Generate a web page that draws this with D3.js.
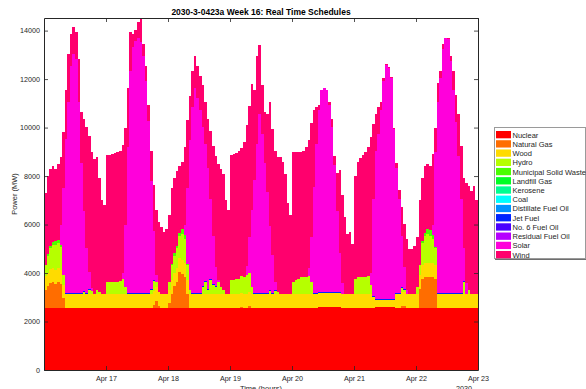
<!DOCTYPE html>
<html>
<head>
<meta charset="utf-8">
<script src="https://cdn.jsdelivr.net/npm/d3@7"></script>
<style>
  html, body { margin: 0; padding: 0; background: #fff; }
  svg { display: block; font-family: "Liberation Sans", Arial, Helvetica, sans-serif; }
</style>
</head>
<body>
<svg id="chart" width="586" height="389"></svg>
<script>
// Week of hourly real-time schedules, Apr 16 00:00 to Apr 23 00:00, 2030
const weekStart = new Date(2030, 3, 16);
const weekEnd = new Date(2030, 3, 23);
const hoursInWeek = 168;

const chartTitle = "2030-3-0423a Week 16: Real Time Schedules";
const yLabel = "Power (MW)";
const xLabel = "Time (hours)";
const yearLabel = "2030";

const yTickValues = [0, 2000, 4000, 6000, 8000, 10000, 12000, 14000];
const xTickLabels = ["Apr 17", "Apr 18", "Apr 19", "Apr 20", "Apr 21", "Apr 22", "Apr 23"];
const yMax = 14520;

const seriesNames = ["Nuclear", "Natural Gas", "Wood", "Hydro", "Municipal Solid Waste", "Landfill Gas",
  "Kerosene", "Coal", "Distillate Fuel Oil", "Jet Fuel", "No. 6 Fuel Oil", "Residual Fuel Oil", "Solar", "Wind"];
const seriesColors = ["#ff0000", "#ff6d00", "#ffdb00", "#b6ff00", "#49ff00", "#00ff24",
  "#00ff92", "#00ffff", "#0092ff", "#0024ff", "#4900ff", "#b600ff", "#ff00db", "#ff006d"];

// Hourly output in MW, one row of 12 hours per line
const nuclear = [
  2550,2550,2550,2550,2550,2550,2550,2550,2550,2550,2550,2550,
  2550,2550,2550,2550,2550,2550,2550,2550,2550,2550,2550,2550,
  2550,2550,2550,2550,2550,2550,2550,2550,2550,2550,2550,2550,
  2550,2550,2550,2550,2550,2550,2550,2550,2550,2550,2550,2550,
  2550,2550,2550,2550,2550,2550,2550,2550,2550,2550,2550,2550,
  2550,2550,2550,2550,2550,2550,2550,2550,2550,2550,2550,2550,
  2550,2550,2550,2550,2550,2550,2550,2550,2550,2550,2550,2550,
  2550,2550,2550,2550,2550,2550,2550,2550,2550,2550,2550,2550,
  2550,2550,2550,2550,2550,2550,2550,2550,2550,2550,2590,2590,
  2590,2590,2590,2590,2590,2590,2590,2550,2550,2550,2550,2550,
  2550,2550,2550,2550,2550,2550,2550,2550,2580,2580,2580,2580,
  2580,2580,2580,2580,2550,2550,2550,2550,2550,2550,2550,2550,
  2550,2550,2550,2550,2550,2550,2550,2550,2550,2550,2550,2550,
  2550,2550,2550,2550,2550,2550,2550,2550,2550,2550,2550,2550
];

const naturalGas = [
  750,900,1050,1100,1000,1100,1000,400,0,0,0,0,
  0,0,0,0,0,0,0,0,0,0,0,0,
  0,0,0,0,0,0,0,0,0,0,0,0,
  0,0,0,0,0,0,150,300,100,0,0,0,
  200,600,900,1100,1500,1400,1300,600,0,0,0,0,
  0,0,0,0,0,0,0,0,0,0,0,0,
  0,0,0,0,60,0,0,80,0,0,0,0,
  0,0,0,0,0,0,0,0,0,0,0,0,
  0,0,0,0,0,0,0,0,0,0,0,0,
  0,0,0,0,0,0,0,0,0,0,0,0,
  0,0,0,0,0,0,0,0,0,0,0,0,
  0,0,0,0,0,0,80,80,0,0,0,0,
  0,800,1200,1300,1300,1300,1300,1200,0,0,0,0,
  0,0,0,0,0,0,0,0,0,0,0,0
];

const wood = [
  570,570,570,570,570,570,570,570,570,570,570,570,
  570,570,570,570,570,570,570,570,570,570,570,570,
  570,570,570,570,570,570,570,570,570,570,570,570,
  570,570,570,570,570,570,570,570,570,570,570,570,
  570,570,570,570,570,570,570,570,570,570,570,570,
  570,570,570,570,570,570,570,570,570,570,570,570,
  570,570,570,570,570,570,570,570,570,570,570,570,
  570,570,570,570,570,570,570,570,570,570,570,570,
  570,570,570,570,570,570,570,570,570,570,570,570,
  570,570,570,570,570,570,570,570,570,570,570,570,
  570,570,570,570,570,570,570,450,310,310,310,310,
  310,310,310,310,570,570,570,570,570,570,570,570,
  570,570,570,570,570,570,570,570,570,570,570,570,
  570,570,570,570,570,570,570,570,570,570,570,570
];

const hydro = [
  450,700,850,950,1050,1000,950,400,0,0,0,0,
  0,0,0,100,0,200,150,0,200,100,0,0,
  500,500,500,520,520,550,650,300,0,0,0,0,
  0,0,0,0,0,200,400,200,0,0,0,0,
  300,600,700,800,900,1100,1000,600,200,0,0,0,
  0,300,500,200,600,400,300,500,300,200,0,0,
  600,600,620,650,680,730,780,800,300,0,0,0,
  0,0,0,150,0,150,100,0,0,0,0,0,
  500,600,650,700,700,720,750,500,0,0,0,0,
  0,0,0,0,0,0,0,0,0,0,0,0,
  650,700,700,700,720,750,400,0,0,0,0,0,
  0,0,0,0,0,0,200,100,0,0,0,0,
  300,400,900,1100,1200,1100,1000,700,0,0,0,0,
  0,0,0,0,0,0,500,0,200,0,0,0
];

const municipalSolidWaste = [
  0,50,80,120,150,150,100,0,0,0,0,0,
  0,0,0,0,0,0,0,0,0,0,0,0,
  0,0,0,0,0,0,0,0,0,0,0,0,
  0,0,0,0,0,0,0,0,0,0,0,0,
  0,50,100,100,150,200,150,50,0,0,0,0,
  0,0,0,0,0,0,0,0,0,0,0,0,
  0,0,0,0,0,0,0,0,0,0,0,0,
  0,0,0,0,0,0,0,0,0,0,0,0,
  0,0,0,0,0,0,0,0,0,0,0,0,
  0,0,0,0,0,0,0,0,0,0,0,0,
  0,0,0,0,0,0,0,0,0,0,0,0,
  0,0,0,0,0,0,0,0,0,0,0,0,
  0,0,100,150,200,250,150,50,0,0,0,0,
  0,0,0,0,0,0,0,0,0,0,0,0
];

// Small daytime jet fuel block
const jetFuel = [
  0,0,0,0,0,0,0,0,40,40,40,40,
  40,40,40,40,40,40,0,0,0,0,0,0,
  0,0,0,0,0,0,0,0,40,40,40,40,
  40,40,40,40,40,40,40,0,0,0,0,0,
  0,0,0,0,0,0,0,0,0,40,40,40,
  40,40,40,40,40,40,40,0,0,0,0,0,
  0,0,0,0,0,0,0,0,0,40,40,40,
  40,40,40,40,40,40,0,0,0,0,0,0,
  0,0,0,0,0,0,0,0,40,40,40,40,
  40,40,40,40,40,40,40,0,0,0,0,0,
  0,0,0,0,0,0,0,40,40,40,40,40,
  40,40,40,40,40,40,40,40,0,0,0,0,
  0,0,0,0,0,0,0,0,40,40,40,40,
  40,40,40,40,40,40,40,0,0,0,0,0
];

// Fuels with no scheduled output this week
const landfillGas = [];
const kerosene = [];
const coal = [];
const distillateFuelOil = [];
const no6FuelOil = [];
const residualFuelOil = [];

const solar = [
  0,0,0,0,0,0,830,3580,6380,7880,9380,9880,
  9680,7880,5380,3280,1880,680,100,0,0,0,0,0,
  0,0,0,0,0,0,230,2580,6030,9180,10150,10430,
  10530,10380,9810,8780,7130,4450,2030,300,0,0,0,0,
  0,0,0,0,0,0,430,3130,6180,7680,8480,8080,
  7580,6580,5680,4980,3280,1980,780,100,0,0,0,0,
  0,0,0,0,0,0,400,1500,3180,4680,6180,7380,
  6580,5380,4180,2630,1580,330,0,0,0,0,0,0,
  0,0,0,0,0,0,330,1880,4380,6180,7540,8340,
  8440,8340,7740,6840,5240,3340,1640,480,0,0,0,0,
  0,0,0,0,0,0,480,4000,6110,6810,7810,9010,
  9660,9510,9110,7010,5180,3880,2100,900,180,0,0,0,
  0,0,0,0,0,0,430,3930,7880,8880,10080,10530,
  10480,9580,8380,7080,5680,3880,1380,480,0,0,0,0
];

const wind = [
  2980,3230,3200,3110,2980,3130,2800,2300,2000,2000,1300,1100,
  1100,1800,2100,3800,5000,5600,5630,5580,5480,4680,3880,3680,
  5250,5250,5280,5310,5360,5380,5300,4000,2450,1600,530,450,
  650,980,470,600,650,1230,1900,2680,2880,2780,2580,2680,
  2780,3130,3080,3080,2730,2780,3200,2800,1800,1500,1300,1300,
  1400,1700,1700,2000,2800,3700,4600,4780,4880,4780,3880,3480,
  5130,5180,5210,5280,5290,5550,5800,5400,5200,3700,3600,2850,
  2000,2100,3200,5100,5200,5400,5580,5680,5480,4980,3780,3280,
  5380,5280,5230,5180,5230,5360,5300,4700,3200,1500,200,0,
  0,0,100,300,400,1600,3400,3600,3180,2480,2580,2080,
  4230,4780,4930,5030,5160,5330,5600,3100,1500,1100,300,100,
  30,50,50,50,200,400,1200,1800,2100,1880,1880,1980,
  2080,2680,2580,2730,2680,2630,2900,1000,800,300,200,0,
  50,200,800,1100,1700,2200,2900,4100,4280,4280,4480,3880
];

const seriesValues = [nuclear, naturalGas, wood, hydro, municipalSolidWaste, landfillGas,
  kerosene, coal, distillateFuelOil, jetFuel, no6FuelOil, residualFuelOil, solar, wind];

// ---- layout ----
const plot = { left: 44, right: 478, top: 18, bottom: 370 };
const axisColor = "#262626";

const svg = d3.select("#chart");

const x = d3.scaleTime().domain([weekStart, weekEnd]).range([plot.left, plot.right]);
const y = d3.scaleLinear().domain([0, yMax]).range([plot.bottom, plot.top]);

// One row per hour; the extra row at the end closes the last hourly step
const rows = d3.range(hoursInWeek + 1).map(h => {
  const src = Math.min(h, hoursInWeek - 1);
  const row = { time: d3.timeHour.offset(weekStart, h) };
  seriesNames.forEach((name, i) => { row[name] = seriesValues[i][src] || 0; });
  return row;
});

const layers = d3.stack().keys(seriesNames)(rows);

const area = d3.area()
  .curve(d3.curveStepAfter)
  .x(d => x(d.data.time))
  .y0(d => y(d[0]))
  .y1(d => y(d[1]));

svg.append("defs").append("clipPath").attr("id", "plot-clip")
  .append("rect")
  .attr("x", plot.left).attr("y", plot.top)
  .attr("width", plot.right - plot.left).attr("height", plot.bottom - plot.top);

svg.append("g")
  .attr("clip-path", "url(#plot-clip)")
  .selectAll("path")
  .data(layers.filter((l, i) => seriesValues[i].some(v => v > 0)))
  .join("path")
  .attr("d", area)
  .attr("fill", l => seriesColors[seriesNames.indexOf(l.key)])
  .attr("shape-rendering", "crispEdges");

// ---- axes (box with inward ticks on all four sides) ----
const dayTicks = xTickLabels.map((_, i) => d3.timeDay.offset(weekStart, i + 1));
const labelFor = d => xTickLabels[dayTicks.findIndex(t => +t === +d)];

function styleAxis(g) {
  g.selectAll("path.domain").attr("stroke", axisColor).attr("stroke-width", 1);
  g.selectAll(".tick line").attr("stroke", axisColor).attr("stroke-width", 0.8);
  g.selectAll(".tick text").attr("fill", axisColor).attr("font-size", "7.2px")
    .attr("font-family", '"Liberation Sans", Arial, Helvetica, sans-serif');
}

svg.append("g")
  .attr("transform", `translate(0,${plot.bottom})`)
  .call(d3.axisBottom(x).tickValues(dayTicks).tickFormat(labelFor)
    .tickSizeInner(-4).tickSizeOuter(0).tickPadding(6))
  .call(styleAxis);

svg.append("g")
  .attr("transform", `translate(0,${plot.top})`)
  .call(d3.axisTop(x).tickValues(dayTicks).tickFormat("")
    .tickSizeInner(-4).tickSizeOuter(0))
  .call(styleAxis);

svg.append("g")
  .attr("transform", `translate(${plot.left},0)`)
  .call(d3.axisLeft(y).tickValues(yTickValues).tickFormat(d3.format("d"))
    .tickSizeInner(-4).tickSizeOuter(0).tickPadding(4))
  .call(styleAxis);

svg.append("g")
  .attr("transform", `translate(${plot.right},0)`)
  .call(d3.axisRight(y).tickValues(yTickValues).tickFormat("")
    .tickSizeInner(-4).tickSizeOuter(0))
  .call(styleAxis);

// ---- labels ----
svg.append("text")
  .attr("x", (plot.left + plot.right) / 2).attr("y", 14.5)
  .attr("text-anchor", "middle")
  .attr("font-size", "8.5px").attr("font-weight", "bold").attr("fill", "#000")
  .text(chartTitle);

svg.append("text")
  .attr("transform", `translate(16.5,${(plot.top + plot.bottom) / 2}) rotate(-90)`)
  .attr("text-anchor", "middle")
  .attr("font-size", "7.5px").attr("fill", axisColor)
  .text(yLabel);

svg.append("text")
  .attr("x", (plot.left + plot.right) / 2).attr("y", 391)
  .attr("text-anchor", "middle")
  .attr("font-size", "7.5px").attr("fill", axisColor)
  .text(xLabel);

svg.append("text")
  .attr("x", 472).attr("y", 390.5)
  .attr("text-anchor", "end")
  .attr("font-size", "7.2px").attr("fill", axisColor)
  .text(yearLabel);

// ---- legend ----
const legend = { x: 494, y: 127, w: 91, h: 131, rowH: 9.23, firstRow: 131 };
const lg = svg.append("g");
lg.append("rect")
  .attr("x", legend.x + 0.5).attr("y", legend.y + 0.5)
  .attr("width", legend.w).attr("height", legend.h)
  .attr("fill", "#fff").attr("stroke", "#9a9a9a").attr("stroke-width", 1);
lg.append("path")
  .attr("d", `M${legend.x + 1},${legend.y + legend.h + 1.5}H${legend.x + legend.w + 1.5}V${legend.y + 1}`)
  .attr("fill", "none").attr("stroke", "#6e6e6e").attr("stroke-width", 1);

const items = lg.selectAll("g.item")
  .data(seriesNames)
  .join("g")
  .attr("class", "item")
  .attr("transform", (d, i) => `translate(${legend.x + 2},${legend.firstRow + i * legend.rowH})`);

items.append("rect")
  .attr("width", 15).attr("height", 7.3)
  .attr("fill", (d, i) => seriesColors[i]);

items.append("text")
  .attr("x", 16.5).attr("y", 6.6)
  .attr("font-size", "7.5px").attr("fill", axisColor)
  .text(d => d);
</script>
</body>
</html>
